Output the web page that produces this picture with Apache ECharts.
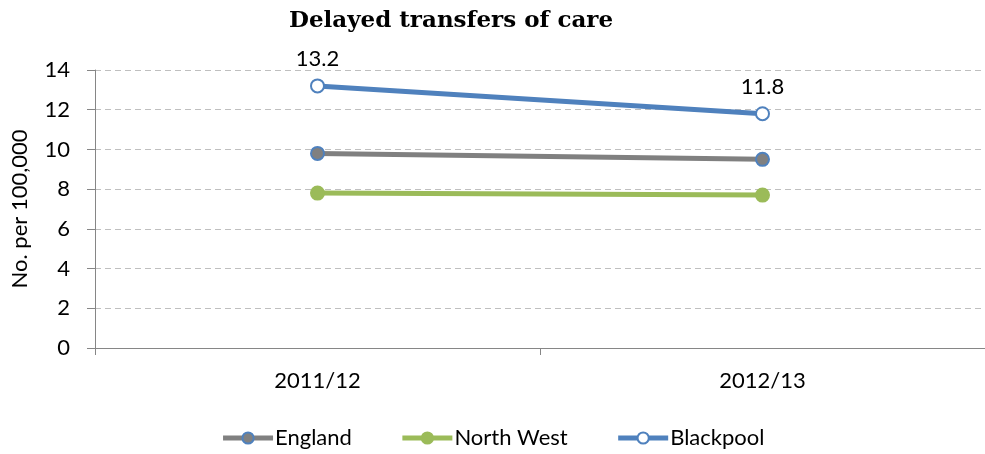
<!DOCTYPE html>
<html><head><meta charset="utf-8">
<script src="https://cdn.jsdelivr.net/npm/echarts@6/dist/echarts.min.js"></script>
<style>html,body{margin:0;padding:0;background:#fff}#c{width:985px;height:454px}</style>
</head><body><div id="c"></div>
<script>
const categories = ['2011/12', '2012/13'];
const england = [9.8, 9.5];
const northWest = [7.8, 7.7];
const blackpool = [13.2, 11.8];
const yTicks = [0, 2, 4, 6, 8, 10, 12, 14];

const font = 'Lato, "Open Sans", sans-serif';
const chart = echarts.init(document.getElementById('c'), null, {renderer: 'canvas'});
chart.setOption({
  animation: false,
  backgroundColor: '#fff',
  title: {
    text: 'Delayed transfers of care', left: 446, top: 5, textAlign: 'center',
    textStyle: {fontFamily: '"DejaVu Serif", "Liberation Serif", serif', fontWeight: 'bold', fontSize: 23, color: '#000'}
  },
  legend: {
    top: 422, left: 'center', itemWidth: 50, itemHeight: 14, itemGap: 48,
    textStyle: {fontFamily: font, fontSize: 22, color: '#000', padding: [0, 0, 0, -3]},
    lineStyle: {width: 5},
    data: ['England', 'North West', 'Blackpool']
  },
  grid: {left: 95, right: 0, top: 70, bottom: 106, containLabel: false},
  xAxis: {
    type: 'category', data: categories, boundaryGap: true,
    axisLine: {lineStyle: {color: '#868686', width: 1}},
    axisTick: {show: true, length: 7, lineStyle: {color: '#868686'}},
    axisLabel: {fontFamily: font, fontSize: 22, color: '#000', margin: 22}
  },
  yAxis: {
    type: 'value', min: yTicks[0], max: yTicks[yTicks.length - 1], interval: 2,
    name: 'No. per 100,000', nameLocation: 'middle', nameGap: 64,
    nameTextStyle: {fontFamily: font, fontSize: 22, color: '#000'},
    axisLine: {show: true, lineStyle: {color: '#868686'}},
    axisTick: {show: true, length: 8, lineStyle: {color: '#868686'}},
    axisLabel: {fontFamily: font, fontSize: 22, color: '#000', margin: 25},
    splitLine: {lineStyle: {color: '#bfbfbf', type: [6, 4], width: 1}}
  },
  series: [
    {
      name: 'England', type: 'line', data: england,
      symbol: 'circle', symbolSize: 13,
      lineStyle: {color: '#808080', width: 5},
      itemStyle: {color: '#808080', borderColor: '#4F81BD', borderWidth: 2}
    },
    {
      name: 'North West', type: 'line', data: northWest,
      symbol: 'circle', symbolSize: 13,
      lineStyle: {color: '#9BBB59', width: 5},
      itemStyle: {color: '#9BBB59', borderColor: '#9BBB59', borderWidth: 2}
    },
    {
      name: 'Blackpool', type: 'line', data: blackpool,
      symbol: 'circle', symbolSize: 13,
      lineStyle: {color: '#4F81BD', width: 5},
      itemStyle: {color: '#ffffff', borderColor: '#4F81BD', borderWidth: 2},
      label: {show: true, position: 'top', distance: 8, fontFamily: font, fontSize: 22, color: '#000',
        formatter: p => p.value.toFixed(1)}
    }
  ]
});
</script></body></html>
